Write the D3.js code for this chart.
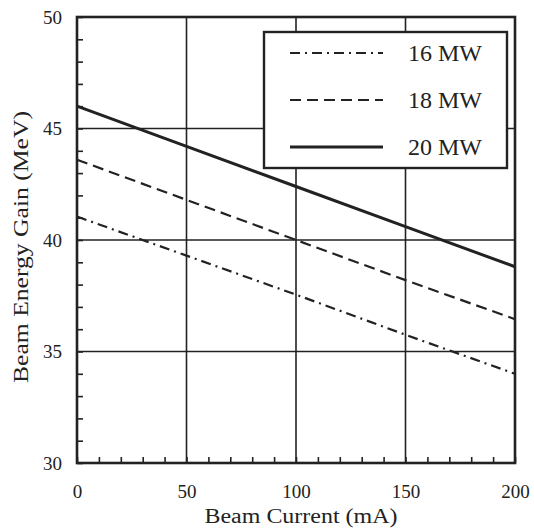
<!DOCTYPE html>
<html><head><meta charset="utf-8">
<script src="https://cdn.jsdelivr.net/npm/d3@7"></script>
<style>body{margin:0;background:#fff}svg{display:block}text{font-family:"Liberation Serif",serif;fill:#222}</style>
</head><body><svg id="c" width="534" height="528"></svg>
<script>
const current = [0, 50, 100, 150, 200];
const mw16 = [41.05, 39.3, 37.55, 35.75, 34.0];
const mw18 = [43.6, 41.8, 40.0, 38.2, 36.45];
const mw20 = [46.0, 44.2, 42.4, 40.6, 38.8];
const seriesNames = ["16 MW", "18 MW", "20 MW"];
const xTicks = [0, 50, 100, 150, 200];
const yTicks = [30, 35, 40, 45, 50];

const svg = d3.select("#c");
const L = 77, R = 515, T = 17, B = 463;
const x = d3.scaleLinear().domain([0, 200]).range([L, R]);
const y = d3.scaleLinear().domain([30, 50]).range([B, T]);
const ink = "#222";

// grid
svg.append("g").selectAll("line").data(xTicks.slice(1, -1)).join("line")
  .attr("x1", d => x(d)).attr("x2", d => x(d)).attr("y1", T).attr("y2", B)
  .attr("stroke", ink).attr("stroke-width", 1.6);
svg.append("g").selectAll("line").data(yTicks.slice(1, -1)).join("line")
  .attr("y1", d => y(d)).attr("y2", d => y(d)).attr("x1", L).attr("x2", R)
  .attr("stroke", ink).attr("stroke-width", 1.6);

// minor ticks (inward)
const yMinor = d3.range(30, 50.01, 1);
svg.append("g").attr("transform", `translate(${L},0)`)
  .call(d3.axisRight(y).tickValues(yMinor).tickSize(6).tickFormat(""))
  .call(g => { g.select(".domain").remove(); g.selectAll("line").attr("stroke", ink).attr("stroke-width", 1.6); });
const xMinor = d3.range(0, 200.01, 10);
svg.append("g").attr("transform", `translate(0,${B})`)
  .call(d3.axisTop(x).tickValues(xMinor).tickSize(6).tickFormat(""))
  .call(g => { g.select(".domain").remove(); g.selectAll("line").attr("stroke", ink).attr("stroke-width", 1.6); });

// tick labels
svg.append("g").attr("transform", `translate(0,${B})`)
  .call(d3.axisBottom(x).tickValues(xTicks).tickSize(0).tickPadding(22))
  .call(g => { g.select(".domain").remove(); g.selectAll("text").attr("font-size", 19).attr("font-family", "Liberation Serif").attr("fill", ink); });
svg.append("g").attr("transform", `translate(${L},0)`)
  .call(d3.axisLeft(y).tickValues(yTicks).tickSize(0).tickPadding(15))
  .call(g => { g.select(".domain").remove(); g.selectAll("text").attr("font-size", 19).attr("font-family", "Liberation Serif").attr("fill", ink); });

// data lines
const line = d3.line().x((d, i) => x(current[i])).y(d => y(d));
const styles = [
  {data: mw16, w: 2.2, dash: "10,5,2,5"},
  {data: mw18, w: 2.2, dash: "11,6"},
  {data: mw20, w: 3, dash: null}
];
styles.forEach(s => {
  svg.append("path").datum(s.data).attr("d", line).attr("fill", "none")
    .attr("stroke", ink).attr("stroke-width", s.w).attr("stroke-dasharray", s.dash);
});

// frame
svg.append("rect").attr("x", L).attr("y", T).attr("width", R - L).attr("height", B - T)
  .attr("fill", "none").attr("stroke", ink).attr("stroke-width", 2.6);

// legend
const lg = svg.append("g");
lg.append("rect").attr("x", 264).attr("y", 32).attr("width", 243).attr("height", 136)
  .attr("fill", "#fff").attr("stroke", ink).attr("stroke-width", 2.4);
const ly = [53, 100, 147];
styles.forEach((s, i) => {
  lg.append("line").attr("x1", 290).attr("x2", 383).attr("y1", ly[i]).attr("y2", ly[i])
    .attr("stroke", ink).attr("stroke-width", s.w).attr("stroke-dasharray", s.dash);
  lg.append("text").attr("x", 408).attr("y", ly[i]).attr("dy", "0.33em")
    .attr("font-size", 24).text(seriesNames[i]);
});

// axis titles
svg.append("text").attr("x", 301).attr("y", 523).attr("text-anchor", "middle")
  .attr("font-size", 20).attr("textLength", 193).attr("lengthAdjust", "spacingAndGlyphs")
  .text("Beam Current (mA)");
svg.append("text").attr("transform", `translate(28,247) rotate(-90)`)
  .attr("text-anchor", "middle").attr("font-size", 20)
  .attr("textLength", 272).attr("lengthAdjust", "spacingAndGlyphs")
  .text("Beam Energy Gain (MeV)");
</script></body></html>
